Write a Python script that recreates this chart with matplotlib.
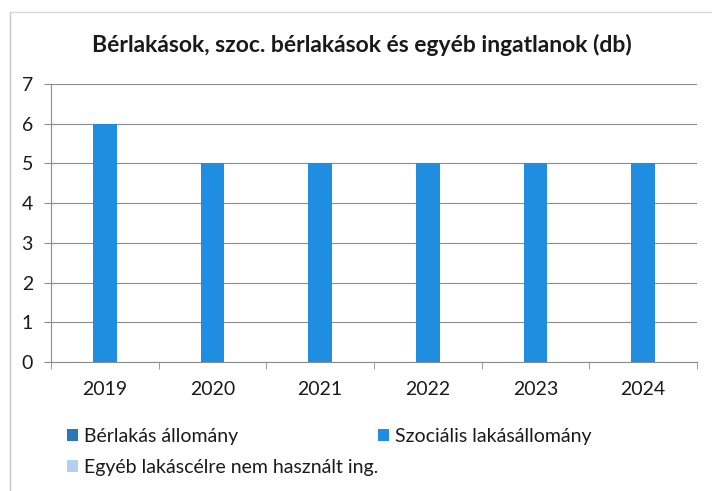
# Bérlakások diagram újrarajzolása
import numpy as np
import matplotlib.pyplot as plt
from matplotlib.lines import Line2D

plt.rcParams['font.family'] = ['Lato', 'DejaVu Sans']
plt.rcParams['text.color'] = '#1a1a1a'
plt.rcParams['xtick.labelcolor'] = '#1a1a1a'
plt.rcParams['ytick.labelcolor'] = '#1a1a1a'

# Adatok
evek = ['2019', '2020', '2021', '2022', '2023', '2024']
berlakas = [0, 0, 0, 0, 0, 0]
szocialis = [6, 5, 5, 5, 5, 5]
egyeb = [0, 0, 0, 0, 0, 0]
sorozatok = ['Bérlakás állomány', 'Szociális lakásállomány',
             'Egyéb lakáscélre nem használt ing.']
szinek = ['#2a78b8', '#1f8ee0', '#b3d0f0']

fig = plt.figure(figsize=(7.12, 4.91), dpi=100)
ax = fig.add_axes([51 / 712, 1 - 362 / 491, 646 / 712, 278 / 491])

x = np.arange(len(evek))
w = 1 / 4.5
b1 = ax.bar(x - w, berlakas, width=w, color=szinek[0], zorder=3)
b2 = ax.bar(x, szocialis, width=w, color=szinek[1], zorder=3)
b3 = ax.bar(x + w, egyeb, width=w, color=szinek[2], zorder=3)

ax.set_xlim(-0.5, len(evek) - 0.5)
ax.set_ylim(0, 7)
ax.set_yticks(range(0, 8))
ax.yaxis.grid(True, color='#8c8c8c', linewidth=0.8)
ax.set_axisbelow(True)

# x tengely: osztások a kategóriák határán
ax.set_xticks(x)
ax.set_xticklabels(evek)
ax.set_xticks(np.arange(-0.5, len(evek)), minor=True)
ax.tick_params(axis='x', which='major', length=0, pad=14, labelsize=14)
ax.tick_params(axis='x', which='minor', length=5, color='#8c8c8c', direction='out')
ax.tick_params(axis='y', length=5, color='#8c8c8c', pad=8, labelsize=14)

for s in ['top', 'right']:
    ax.spines[s].set_visible(False)
for s in ['left', 'bottom']:
    ax.spines[s].set_color('#8c8c8c')
    ax.spines[s].set_linewidth(0.8)

fig.text(362 / 712, 1 - 45 / 491, 'Bérlakások, szoc. bérlakások és egyéb ingatlanok (db)',
         ha='center', va='center', fontsize=16.5, fontweight='bold')

# Jelmagyarázat két oszlopban
leg1 = fig.legend([b1, b3], [sorozatok[0], sorozatok[2]], loc='upper left',
                  bbox_to_anchor=(57 / 712, 1 - 418 / 491), frameon=False,
                  fontsize=14, handlelength=0.6, handleheight=0.6,
                  handletextpad=0.3, labelspacing=0.72, borderpad=0)
leg2 = fig.legend([b2], [sorozatok[1]], loc='upper left',
                  bbox_to_anchor=(368 / 712, 1 - 418 / 491), frameon=False,
                  fontsize=14, handlelength=0.6, handleheight=0.6,
                  handletextpad=0.3, borderpad=0)

# a beszkennelt keret vonalai
fig.add_artist(Line2D([10 / 712, 10 / 712], [0, 1 - 12 / 491], color='#c8c8c8', lw=1))
fig.add_artist(Line2D([10 / 712, 1], [1 - 12 / 491, 1 - 12 / 491], color='#d8d8d8', lw=1))

fig.savefig('out.png', dpi=100)
